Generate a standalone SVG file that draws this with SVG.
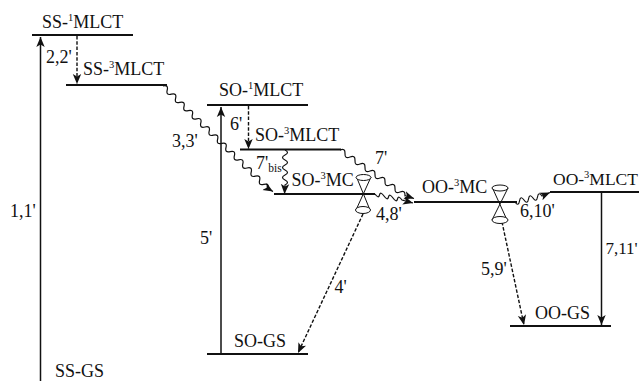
<svg xmlns="http://www.w3.org/2000/svg" width="639" height="381" viewBox="0 0 639 381">
<style>
text{font-family:"Liberation Serif","Times New Roman",serif;font-size:18px;fill:#111}
.s{font-size:10.5px}
.b{font-size:11.5px}
.lv{stroke:#111;stroke-width:2.2;fill:none}
.so{stroke:#111;stroke-width:1.5;fill:none}
.da{stroke:#111;stroke-width:1.4;fill:none;stroke-dasharray:3.5 1.8}
.wv{stroke:#111;stroke-width:1.2;fill:none}
.cone{stroke:#111;stroke-width:1;fill:#fff}
</style>
<defs>
<marker id="a" markerUnits="userSpaceOnUse" markerWidth="12" markerHeight="10" refX="10" refY="5" orient="auto">
<path d="M0 0.8L10 5L0 9.2L2.6 5Z" fill="#111"/>
</marker>
</defs>
<rect width="639" height="381" fill="#fff"/>
<g id="connectors">
<path class="so" d="M40.500 381V37" marker-end="url(#a)"/>
<path class="so" d="M221 354V107" marker-end="url(#a)"/>
<path class="so" d="M601.500 192V325" marker-end="url(#a)"/>
<path class="da" d="M77 36V84" marker-end="url(#a)"/>
<path class="da" d="M248.500 106V149" marker-end="url(#a)"/>
<path class="da" d="M363 214L298 353" marker-end="url(#a)"/>
<path class="da" d="M502 222L524 325" marker-end="url(#a)"/>
<path class="wv" d="M163 86q5.600 -1.450 4.200 4.100t4.200 4.100t4.200 4.100t4.200 4.100t4.200 4.100t4.200 4.100t4.200 4.100t4.200 4.100t4.200 4.100t4.200 4.100t4.200 4.100t4.200 4.100t4.200 4.100t4.200 4.100t4.200 4.100t4.200 4.100t4.200 4.100t4.200 4.100t4.200 4.100t4.200 4.100t4.200 4.100t4.200 4.100t4.200 4.100t4.200 4.100t4.200 4.100l5 3" marker-end="url(#a)"/>
<path class="wv" d="M340 150q5.350 -2.350 5 3.500t5 3.500t5 3.500t5 3.500t5 3.500t5 3.500t5 3.500t5 3.500t5 3.500t5 3.500t5 3.500t5 3.500t5 3.500l9 3" marker-end="url(#a)"/>
<path class="wv" d="M285 150q5 2.500 0 5t0 5t0 5t0 5t0 5t0 5t0 5l-0.500 9" marker-end="url(#a)"/>
<path class="wv" d="M375 194q3.500 5 4.500 1t4.500 1t4.500 1t4.500 1t4.500 1t4.500 1l11 3" marker-end="url(#a)"/>
<path class="wv" d="M515 202q3.500 5 4.500 -1t4.500 -1t4.500 -1t4.500 -1t4.500 -1t4.500 -1l8 -3.500" marker-end="url(#a)"/>
</g>
<g id="SS-1MLCT"><path class="lv" d="M32 35H133"/><text x="42" y="28">SS-<tspan class="s" dy="-7">1</tspan><tspan dy="7">MLCT</tspan></text></g>
<g id="SS-3MLCT"><path class="lv" d="M66 85H167"/><text x="83" y="75">SS-<tspan class="s" dy="-7">3</tspan><tspan dy="7">MLCT</tspan></text></g>
<g id="SO-1MLCT"><path class="lv" d="M207 105H308"/><text x="219" y="96">SO-<tspan class="s" dy="-7">1</tspan><tspan dy="7">MLCT</tspan></text></g>
<g id="SO-3MLCT"><path class="lv" d="M240 149.500H341"/><text x="255" y="140.500">SO-<tspan class="s" dy="-7">3</tspan><tspan dy="7">MLCT</tspan></text></g>
<g id="SO-3MC"><path class="lv" d="M274 194H375"/><text x="291.500" y="186">SO-<tspan class="s" dy="-7">3</tspan><tspan dy="7">MC</tspan></text></g>
<g id="OO-3MC"><path class="lv" d="M414 202H517"/><text x="422" y="193">OO-<tspan class="s" dy="-7">3</tspan><tspan dy="7">MC</tspan></text></g>
<g id="OO-3MLCT"><path class="lv" d="M550 192H639"/><text x="553" y="185" style="font-size:17.500px">OO-<tspan class="s" dy="-7">3</tspan><tspan dy="7">MLCT</tspan></text></g>
<g id="OO-GS"><path class="lv" d="M510 326H611"/><text x="535" y="319">OO-GS</text></g>
<g id="SO-GS"><path class="lv" d="M207 354H308"/><text x="234" y="347">SO-GS</text></g>
<g id="SS-GS"><text x="55" y="377">SS-GS</text></g>
<g id="crossing-SO">
<path class="so" style="stroke-width:1" d="M356.500 177L370 210M371 177L356 210"/>
<ellipse class="cone" cx="363.500" cy="177.500" rx="7.500" ry="3"/>
<ellipse class="cone" cx="363" cy="210" rx="7.500" ry="3.500"/>
</g>
<g id="crossing-OO">
<path class="so" style="stroke-width:1" d="M492.500 188L507 220M508 188L492 220"/>
<ellipse class="cone" cx="500" cy="188" rx="8" ry="3"/>
<ellipse class="cone" cx="500" cy="220" rx="8" ry="3.500"/>
</g>
<g id="labels">
<text x="46" y="63">2,2'</text>
<text x="172" y="147">3,3'</text>
<text x="230" y="130">6'</text>
<text x="256" y="169">7'<tspan class="b" dy="2.500">bis</tspan></text>
<text x="375" y="164">7'</text>
<text x="376" y="220">4,8'</text>
<text x="520" y="217">6,10'</text>
<text x="605.500" y="254" style="font-size:17px">7,11'</text>
<text x="481" y="275">5,9'</text>
<text x="10" y="217">1,1'</text>
<text x="200" y="244">5'</text>
<text x="334.500" y="293">4'</text>
</g>
</svg>
